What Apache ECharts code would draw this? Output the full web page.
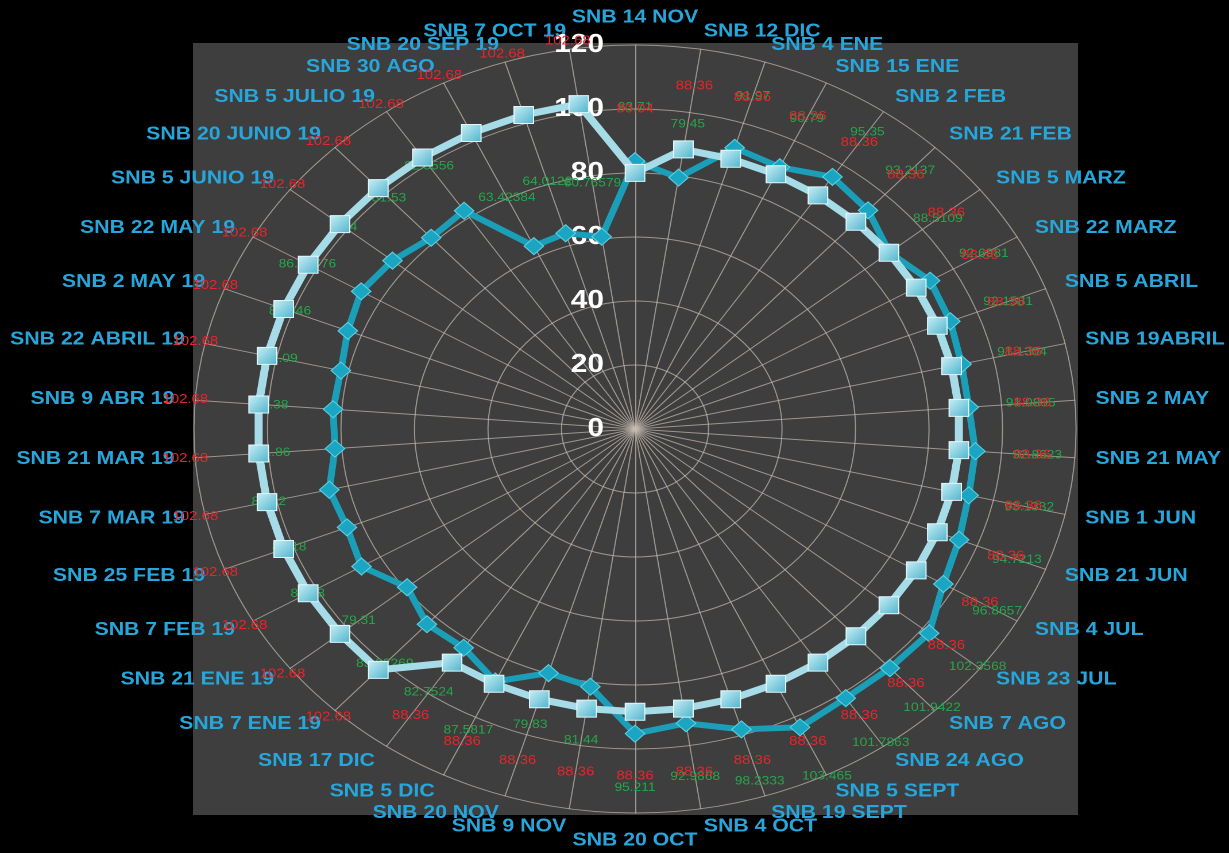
<!DOCTYPE html>
<html><head><meta charset="utf-8">
<script src="https://cdn.jsdelivr.net/npm/echarts@6/dist/echarts.min.js"></script>
<style>
html,body{margin:0;padding:0;background:#000;width:1229px;height:853px;overflow:hidden}
#plotbg{position:absolute;left:193px;top:43px;width:885px;height:772px;background:#3e3e3e}
#wrap{position:absolute;left:0;top:0;width:1070px;height:853px;transform:scaleX(1.1486);transform-origin:0 0}
#chart{width:1070px;height:853px}
</style></head><body>
<div id="plotbg"></div>
<div id="wrap"><div id="chart"></div></div>
<script>
// Categories in clockwise order starting at the top
const categories = [
  'SNB 14 NOV','SNB 12 DIC','SNB 4 ENE','SNB 15 ENE','SNB 2 FEB','SNB 21 FEB','SNB 5 MARZ',
  'SNB 22 MARZ','SNB 5 ABRIL','SNB 19ABRIL','SNB 2 MAY','SNB 21 MAY','SNB 1 JUN','SNB 21 JUN',
  'SNB 4 JUL','SNB 23 JUL','SNB 7 AGO','SNB 24 AGO','SNB 5 SEPT','SNB 19 SEPT','SNB 4 OCT',
  'SNB 20 OCT','SNB 9 NOV','SNB 20 NOV','SNB 5 DIC','SNB 17 DIC','SNB 7 ENE 19','SNB 21 ENE 19',
  'SNB 7 FEB 19','SNB 25 FEB 19','SNB 7 MAR 19','SNB 21 MAR 19','SNB 9 ABR 19','SNB 22 ABRIL 19',
  'SNB 2 MAY 19','SNB 22 MAY 19','SNB 5 JUNIO 19','SNB 20 JUNIO 19','SNB 5 JULIO 19','SNB 30 AGO',
  'SNB 20 SEP 19','SNB 7 OCT 19'
];
// Light series (red labels)
const seriesA = [
  80.04, 88.36, 88.36, 88.36, 88.36, 88.36, 88.36, 88.36, 88.36, 88.36, 88.36, 88.36, 88.36, 88.36,
  88.36, 88.36, 88.36, 88.36, 88.36, 88.36, 88.36, 88.36, 88.36, 88.36, 88.36, 88.36, 102.68, 102.68,
  102.68, 102.68, 102.68, 102.68, 102.68, 102.68, 102.68, 102.68, 102.68, 102.68, 102.68, 102.68,
  102.68, 102.68
];
// Teal series (green labels)
const seriesB = [
  83.71, 79.45, 91.97, 90.79, 95.35, 93.2137, 88.5109, 92.6981, 92.1581, 91.1304, 91.0805, 92.8623,
  93.1332, 94.7213, 96.8657, 102.3568, 101.9422, 101.7863, 103.465, 98.2333, 92.9868, 95.211, 81.44,
  79.83, 87.5817, 82.7524, 83.22269, 79.31, 85.93, 84.18, 85.32, 81.86, 82.38, 82.09, 83.946, 86.03776,
  84.4, 81.53, 82.5556, 63.42384, 64.0122, 60.76579
];
const tickLabels = [0, 20, 40, 60, 80, 100, 120];

const SX = 1229 / 1070;
const CX = 635 / SX, CY = 429, R = 384;

// ECharts radar runs counter-clockwise; reorder so the chart reads clockwise
const order = [0];
for (let i = categories.length - 1; i >= 1; i--) order.push(i);
const reorder = arr => order.map(i => arr[i]);

const indicator = reorder(categories).map((name, j) => {
  const o = { name: name, min: tickLabels[0], max: tickLabels[tickLabels.length - 1] };
  if (j === 0) o.axisLabel = { show: true };
  return o;
});

function pushOut(dist) {
  return function (p) {
    const r = p.rect;
    const cx = r.x + r.width / 2, cy = r.y + r.height / 2;
    const dx = cx - CX, dy = cy - CY;
    const L = Math.hypot(dx, dy) || 1;
    return { x: cx + dx / L * dist, y: cy + dy / L * dist, align: 'center', verticalAlign: 'middle' };
  };
}

const chart = echarts.init(document.getElementById('chart'), null, { devicePixelRatio: 2 });
chart.setOption({
  backgroundColor: 'transparent',
  animation: false,
  radar: {
    center: [CX, CY],
    radius: R,
    startAngle: 90,
    shape: 'circle',
    splitNumber: tickLabels.length - 1,
    indicator: indicator,
    nameGap: 18,
    axisName: {
      color: '#27a6dc',
      fontFamily: 'Liberation Sans',
      fontWeight: 'bold',
      fontSize: 18.5
    },
    axisLine: { lineStyle: { color: 'rgba(200,188,176,0.7)', width: 1 } },
    splitLine: { lineStyle: { color: 'rgba(200,188,176,0.7)', width: 1 } },
    splitArea: { show: false },
    axisTick: { show: false },
    axisLabel: {
      show: false,
      color: '#ffffff',
      fontFamily: 'Liberation Sans',
      fontWeight: 'bold',
      fontSize: 26,
      margin: 27
    }
  },
  series: [
    {
      type: 'radar',
      z: 2,
      symbol: 'diamond',
      symbolSize: 17,
      lineStyle: { color: '#1b9fb9', width: 6 },
      itemStyle: { color: '#1aa6c2', borderColor: '#5fd0e2', borderWidth: 1 },
      label: {
        show: true, position: 'inside', color: '#25a84a', fontSize: 12,
        fontFamily: 'Liberation Sans'
      },
      labelLayout: pushOut(54),
      data: [{ value: reorder(seriesB), name: 'B' }]
    },
    {
      type: 'radar',
      z: 3,
      symbol: 'rect',
      symbolSize: 17,
      lineStyle: { color: '#a6dbe8', width: 7 },
      itemStyle: {
        color: new echarts.graphic.LinearGradient(0, 0, 1, 1, [
          { offset: 0, color: '#c9f0f7' }, { offset: 1, color: '#4fb3cc' }
        ]),
        borderColor: '#e2f7fb', borderWidth: 1
      },
      label: {
        show: true, position: 'inside', color: '#e8262b', fontSize: 13,
        fontFamily: 'Liberation Sans'
      },
      labelLayout: pushOut(64),
      data: [{ value: reorder(seriesA), name: 'A' }]
    }
  ]
});
</script>
</body></html>
